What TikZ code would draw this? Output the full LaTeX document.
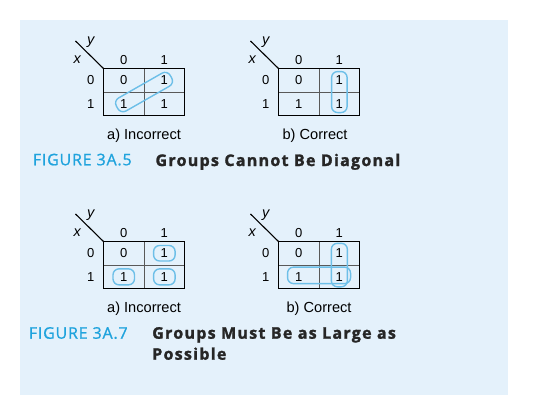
\documentclass[tikz,border=0pt]{standalone}
\usepackage{fontspec}
\setmainfont{Liberation Sans}
\newfontfamily\figfont[LetterSpace=5, FakeBold=1]{Open Sans}
\newfontfamily\titlefont[LetterSpace=8, BoldFeatures={FakeBold=1.6}]{Open Sans}
\usetikzlibrary{positioning, calc}
\definecolor{panelblue}{HTML}{E4F1FB}
\definecolor{figcyan}{HTML}{1FA3DD}
\definecolor{loopblue}{HTML}{6DBFE8}

\begin{document}
\begin{tikzpicture}[x=1pt, y=-1pt, line width=1.1pt,
	cell/.style={minimum width=39.5pt, minimum height=22.5pt, inner sep=0pt, font=\fontsize{13}{13}\selectfont},
	lbl/.style={inner sep=0pt, font=\fontsize{13}{13}\selectfont},
	var/.style={inner sep=0pt, font=\fontsize{14.5}{14.5}\selectfont\itshape},
	sub/.style={inner sep=0pt, font=\fontsize{14.6}{14.6}\selectfont},
	fig/.style={inner sep=0pt, anchor=base west, text=figcyan, font=\fontsize{16}{16}\figfont},
	title/.style={inner sep=0pt, anchor=base west, text=black!85, font=\fontsize{16}{16}\titlefont\bfseries},
	grp/.style={draw=loopblue, line width=1.4pt, rounded corners=6pt, inner sep=0pt} ]
	\useasboundingbox (0,0) rectangle (538,410);
	\fill[panelblue] (20,20) rectangle (508,395);

	%Mapas: nome/canto superior esquerdo
	\foreach \m/\x/\y in {a/104/69, b/279/69, c/104/242, d/279/242} {
		\node[cell]						(\m-00) at (\x+19.75,\y+11.25) {0};
		\node[cell, right=0pt of \m-00]	(\m-01) {1};
		\node[cell, below=0pt of \m-00]	(\m-10) {1};
		\node[cell, right=0pt of \m-10]	(\m-11) {1};
		\node[lbl, above=3pt of \m-00]	(\m-h0) {0};
		\node[lbl, above=3pt of \m-01]	(\m-h1) {1};
		\node[lbl, left=8.5pt of \m-00]	(\m-r0) {0};
		\node[lbl, left=8.5pt of \m-10]	(\m-r1) {1};
		\coordinate (\m-tip) at ($(\m-00.north west)+(-28,-27.5)$);
		\node[var] (\m-y) at ($(\m-00.north west)+(-12.6,-26)$) {y};
		\node[var] (\m-x) at ($(\m-00.north west)+(-26.3,-9)$) {x};
		\draw (\m-tip) -- (\m-00.north west);
		\draw[black!65] (\m-00.south west) -- (\m-01.south east);
		\draw[black!65] (\m-00.north east) -- (\m-10.south east);
		\draw (\m-00.north west) rectangle (\m-11.south east);
	}

	%Grupos
	\node[grp, rotate=29.7, minimum width=62pt, minimum height=15pt] (g-a) at ($(a-10)!0.5!(a-01)$) {};
	\node[grp, minimum width=15.5pt, minimum height=41pt] (g-b) at ($(b-01)!0.5!(b-11)$) {};
	\node[grp, minimum width=21.5pt, minimum height=15.5pt] (g-c1) at (c-01) {};
	\node[grp, minimum width=21.5pt, minimum height=16pt] (g-c2) at (c-10) {};
	\node[grp, minimum width=21.5pt, minimum height=16pt] (g-c3) at (c-11) {};
	\node[grp, minimum width=16pt, minimum height=43.5pt] (g-d1) at ($(d-01)!0.5!(d-11)$) {};
	\node[grp, minimum width=63pt, minimum height=16.5pt] (g-d2) at ($(d-10)!0.5!(d-11)+(0,-1.5)$) {};

	%Legendas
	\node[sub] (a-cap) at ($(a-10.south east)+(0,20)$) {a) Incorrect};
	\node[sub] (b-cap) at ($(b-10.south east)+(-4,20)$) {b) Correct};
	\node[sub] (c-cap) at ($(c-10.south east)+(0,19.7)$) {a) Incorrect};
	\node[sub] (d-cap) at ($(d-10.south east)+(0,19.7)$) {b) Correct};

	\node[fig] (f5) at (32.3,165.3) {FIGURE 3A.5};
	\node[title] (t5) at (155,166) {Groups Cannot Be Diagonal};
	\node[fig] (f7) at (28.3,338.7) {FIGURE 3A.7};
	\node[title] (t7a) at (151.7,338.7) {Groups Must Be as Large as};
	\node[title] (t7b) at (151.7,359.7) {Possible};
\end{tikzpicture}
\end{document}
